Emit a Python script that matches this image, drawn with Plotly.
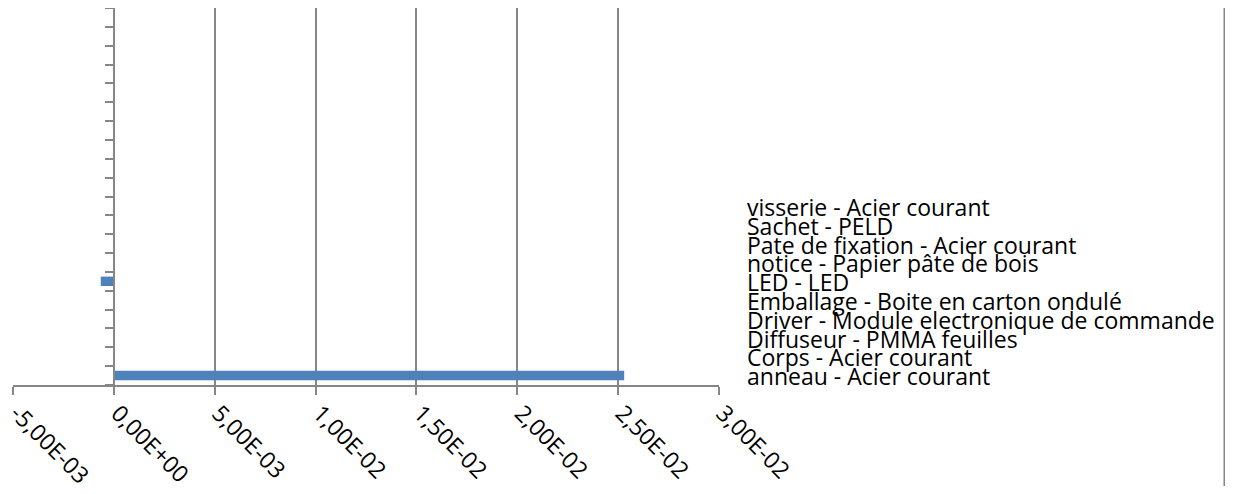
import plotly.graph_objects as go

# ---- data ----
n_categories = 20
category_positions = list(range(n_categories))
bar_values = [0.0253, 0, 0, 0, 0, -0.00065, 0, 0, 0, 0,
              0, 0, 0, 0, 0, 0, 0, 0, 0, 0]
legend_labels = [
    "visserie - Acier courant",
    "Sachet - PELD",
    "Pate de fixation - Acier courant",
    "notice - Papier pâte de bois",
    "LED - LED",
    "Emballage - Boite en carton ondulé",
    "Driver - Module electronique de commande",
    "Diffuseur - PMMA feuilles",
    "Corps - Acier courant",
    "anneau - Acier courant",
]
x_tick_values = [-0.005, 0, 0.005, 0.01, 0.015, 0.02, 0.025, 0.03]
x_tick_labels = ["-5,00E-03", "0,00E+00", "5,00E-03", "1,00E-02",
                 "1,50E-02", "2,00E-02", "2,50E-02", "3,00E-02"]

OFF = 8  # default page body margin
W, H = 1220, 494 - 2 * OFF
# plot area edges in window pixels
L, R, T, B = 13, 719, 8, 385
L, R, T, B = L - OFF, R - OFF, T - OFF, B - OFF
FONT = "Open Sans"
GRID = "#868686"
FS = 23

fig = go.Figure()
fig.add_trace(go.Bar(
    x=bar_values, y=category_positions, orientation="h",
    marker=dict(color="#4F81BD", line=dict(width=0)),
    showlegend=False, hoverinfo="skip",
))

xmin, xmax = x_tick_values[0], x_tick_values[-1]
fig.update_layout(
    width=W, height=H,
    margin=dict(l=L, r=W - R, t=T, b=H - B, pad=0),
    paper_bgcolor="white", plot_bgcolor="white",
    bargap=0.5,
    font=dict(family=FONT, size=FS, color="black"),
    xaxis=dict(
        range=[xmin, xmax], tickvals=x_tick_values, ticktext=x_tick_labels,
        tickangle=45, showgrid=True, gridcolor=GRID, gridwidth=1.5,
        showline=True, linecolor=GRID, linewidth=1.5,
        ticks="outside", ticklen=8, tickcolor=GRID, tickwidth=1.5,
        ticklabelstandoff=-4, ticklabelshift=4,
        automargin=False, ticklabeloverflow="allow",
        zeroline=False, tickfont=dict(family=FONT, size=FS, color="black"),
    ),
    yaxis=dict(
        range=[-0.5, n_categories - 0.5],
        tickvals=[i - 0.5 for i in range(n_categories + 1)],
        showticklabels=False, showgrid=False, zeroline=False,
        showline=True, linecolor=GRID, linewidth=1.5,
        ticks="outside", ticklen=8, tickcolor=GRID, tickwidth=1.5,
        anchor="free", position=(0 - xmin) / (xmax - xmin),
    ),
)

# legend-like text lines on the right (no symbols)
pw, ph = R - L, B - T
first_center, spacing = 207 - OFF, 18.8
for i, lab in enumerate(legend_labels):
    ypix = first_center + i * spacing
    fig.add_annotation(
        text=lab, xref="paper", yref="paper",
        x=(746 - OFF - L) / pw, y=(B - ypix) / ph,
        xanchor="left", yanchor="middle", showarrow=False, borderpad=0,
        font=dict(family=FONT, size=FS, color="black"),
    )

# chart border on the right
bx = (1224.5 - OFF - L) / pw
fig.add_shape(type="line", xref="paper", yref="paper",
              x0=bx, x1=bx, y0=-0.3, y1=1.05,
              line=dict(color=GRID, width=2))

fig.write_html("out.html")
